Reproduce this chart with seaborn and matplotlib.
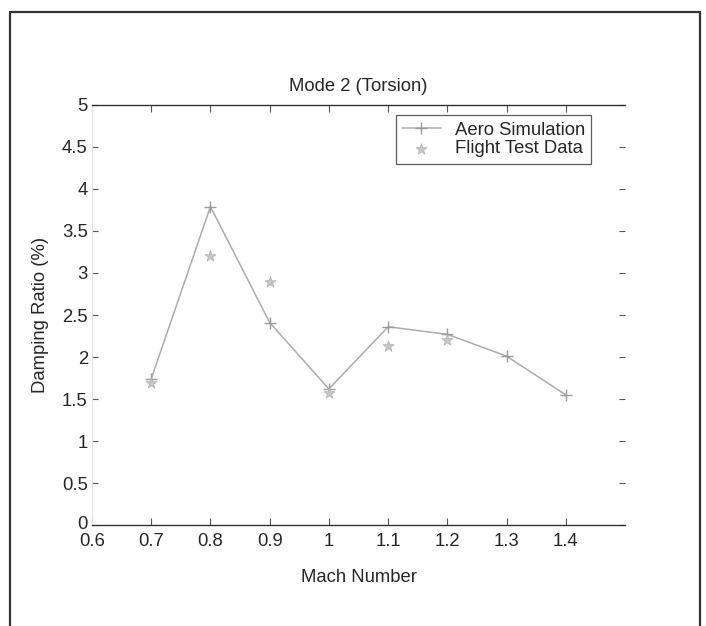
import matplotlib
matplotlib.use("Agg")
import matplotlib.pyplot as plt
from matplotlib.lines import Line2D
import matplotlib.transforms as mtransforms
import seaborn as sns
import pandas as pd

# Data
mach_sim = [0.7, 0.8, 0.9, 1.0, 1.1, 1.2, 1.3, 1.4]
damp_sim = [1.74, 3.79, 2.41, 1.62, 2.36, 2.27, 2.01, 1.55]
mach_flight = [0.7, 0.8, 0.9, 1.0, 1.1, 1.2]
damp_flight = [1.69, 3.20, 2.89, 1.57, 2.13, 2.20]

xticks = [0.6, 0.7, 0.8, 0.9, 1.0, 1.1, 1.2, 1.3, 1.4]
xticklabels = ["0.6", "0.7", "0.8", "0.9", "1", "1.1", "1.2", "1.3", "1.4"]
yticks = [0, 0.5, 1, 1.5, 2, 2.5, 3, 3.5, 4, 4.5, 5]
yticklabels = ["0", "0.5", "1", "1.5", "2", "2.5", "3", "3.5", "4", "4.5", "5"]

sns.set_theme(style="white")
plt.rcParams["font.family"] = ["Liberation Sans", "DejaVu Sans"]

FS = 13.3
TXT = "#262626"

df_sim = pd.DataFrame({"Mach": mach_sim, "Damping": damp_sim})
df_fl = pd.DataFrame({"Mach": mach_flight, "Damping": damp_flight})

fig = plt.figure(figsize=(7.06, 6.26), dpi=100)
ax = fig.add_axes([0.1303, 0.1613, 0.755, 0.671])

sns.lineplot(data=df_sim, x="Mach", y="Damping", ax=ax, color="#ababab",
             linewidth=1.1, marker="+", markersize=8, markeredgewidth=1.0,
             markeredgecolor="#9a9a9a", label="Aero Simulation")
sns.scatterplot(data=df_fl, x="Mach", y="Damping", ax=ax, marker="*",
                s=70, color="#c6c6c6", edgecolor="#b0b0b0", linewidth=0.5,
                label="Flight Test Data", zorder=3)

ax.set_xlim(0.6, 1.5)
ax.set_ylim(0, 5)
ax.set_xticks(xticks)
ax.set_xticklabels(xticklabels)
ax.set_yticks(yticks)
ax.set_yticklabels(yticklabels)

for s in ["top", "bottom"]:
    ax.spines[s].set_color("#333333")
    ax.spines[s].set_linewidth(1.0)
ax.spines["left"].set_color("#e4e4e4")
ax.spines["left"].set_linewidth(0.8)
ax.spines["right"].set_visible(False)

ax.tick_params(axis="x", which="both", top=True, bottom=True, direction="in",
               length=5, width=0.8, color="#555555", labelsize=FS, pad=5.5,
               labelcolor=TXT)
ax.tick_params(axis="y", which="both", left=True, right=True, direction="in",
               length=4, width=0.8, color="#555555", labelsize=FS, pad=3,
               labelcolor=TXT)

# nudge the "0" y-label slightly upward, as in the reference
zero_lbl = ax.get_yticklabels()[0]
zero_lbl.set_transform(zero_lbl.get_transform() +
                       mtransforms.ScaledTranslation(0, 3 / 100, fig.dpi_scale_trans))

ax.set_title("Mode 2 (Torsion)", fontsize=FS, pad=10, color=TXT)
ax.set_xlabel("Mach Number", fontsize=FS, labelpad=14, color=TXT)
ax.set_ylabel("Damping Ratio (%)", fontsize=FS, labelpad=9, color=TXT)

leg = ax.legend(loc="upper right", bbox_to_anchor=(0.937, 0.976), borderaxespad=0,
                frameon=True, fancybox=False, fontsize=FS, handlelength=2.1,
                borderpad=0.35, labelspacing=0.1, handletextpad=0.75)
leg.get_frame().set_edgecolor("#333333")
leg.get_frame().set_linewidth(0.9)
for t in leg.get_texts():
    t.set_color(TXT)

# outer frame of the scanned figure
fw, fh = 706.0, 626.0
for (x0, y0, x1, y1) in [(10, 12, 700, 12), (10, 12, 10, 626), (700, 12, 700, 626)]:
    fig.add_artist(Line2D([x0 / fw, x1 / fw], [1 - y0 / fh, 1 - y1 / fh],
                          transform=fig.transFigure, color="#333333", linewidth=1.6))

fig.savefig("out.png", dpi=100, facecolor="white")
